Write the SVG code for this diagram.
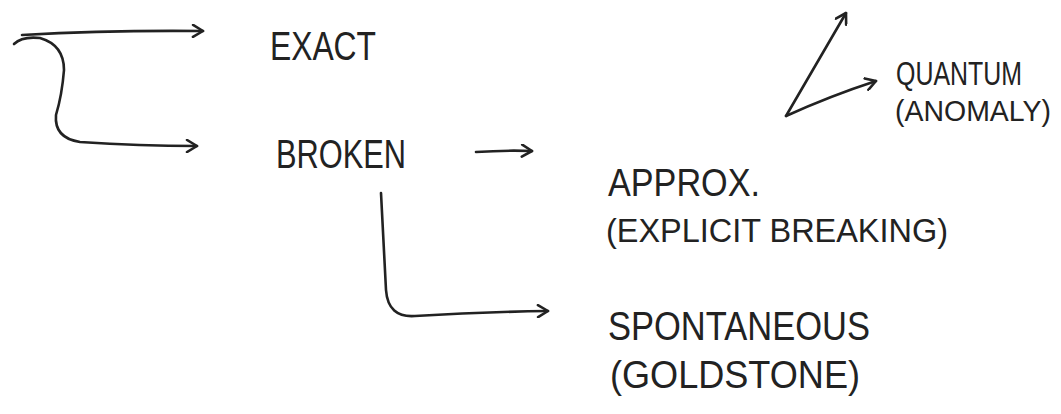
<svg xmlns="http://www.w3.org/2000/svg" width="1061" height="414" viewBox="0 0 1061 414">
<style>
.c{fill:none;stroke:#222;stroke-width:2.6;stroke-linecap:round;stroke-linejoin:round}
.t{font-family:"Liberation Sans",Arial,sans-serif;fill:#222;font-weight:normal}
</style>
<defs>
<marker id="ah" markerWidth="14" markerHeight="14" refX="12" refY="7" orient="auto" markerUnits="userSpaceOnUse">
<path d="M2,1 L12,7 L2,13" fill="none" stroke="#222" stroke-width="2.6" stroke-linecap="round" stroke-linejoin="round"/>
</marker>
</defs>
<rect width="1061" height="414" fill="#fff"/>
<g id="connectors">
<path class="c" d="M22,35 Q110,30 203,31" marker-end="url(#ah)"/>
<path class="c" d="M14,44 Q22,36 40,38 Q64,45 64,70 Q62,95 56,115 Q54,138 80,142 Q140,146 197,146" marker-end="url(#ah)"/>
<path class="c" d="M476,152 Q505,150 532,151" marker-end="url(#ah)"/>
<path class="c" d="M381,193 Q384,250 386,290 Q388,318 415,316 Q480,312 548,311" marker-end="url(#ah)"/>
<path class="c" d="M786,116 L846,13" marker-end="url(#ah)"/>
<path class="c" d="M786,116 Q830,96 876,81" marker-end="url(#ah)"/>
</g>
<g id="exact"><text class="t" x="270" y="60" font-size="40" textLength="106" lengthAdjust="spacingAndGlyphs">EXACT</text></g>
<g id="broken"><text class="t" x="276" y="168" font-size="40" textLength="130" lengthAdjust="spacingAndGlyphs">BROKEN</text></g>
<g id="approx"><text class="t" x="608" y="196" font-size="38" textLength="152" lengthAdjust="spacingAndGlyphs">APPROX.</text>
<text class="t" x="606" y="242" font-size="34" textLength="342" lengthAdjust="spacingAndGlyphs">(EXPLICIT BREAKING)</text></g>
<g id="spontaneous"><text class="t" x="608" y="340" font-size="40" textLength="262" lengthAdjust="spacingAndGlyphs">SPONTANEOUS</text>
<text class="t" x="610" y="388" font-size="38" textLength="250" lengthAdjust="spacingAndGlyphs">(GOLDSTONE)</text></g>
<g id="quantum"><text class="t" x="896" y="85" font-size="33" textLength="126" lengthAdjust="spacingAndGlyphs">QUANTUM</text>
<text class="t" x="895" y="121" font-size="30" textLength="156" lengthAdjust="spacingAndGlyphs">(ANOMALY)</text></g>
</svg>
